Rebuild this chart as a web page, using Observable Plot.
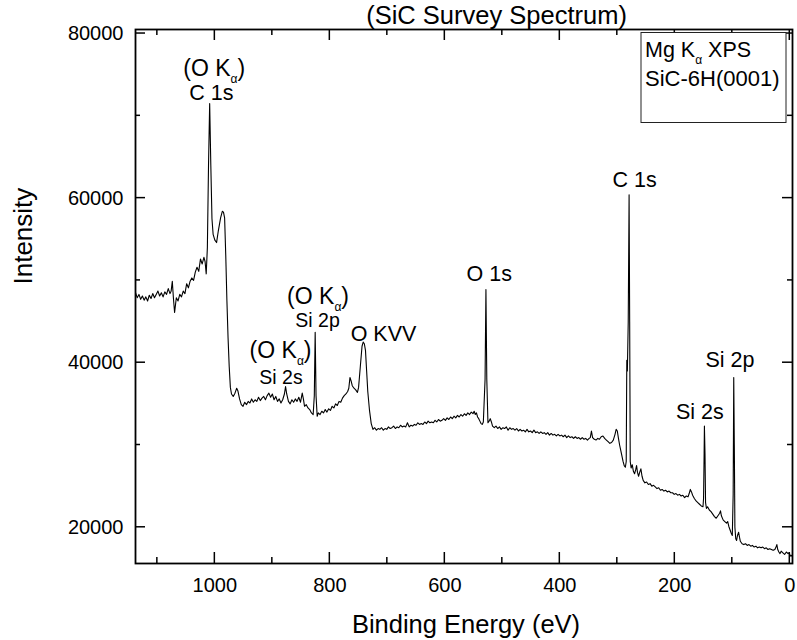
<!DOCTYPE html>
<html><head><meta charset="utf-8">
<script src="https://cdn.jsdelivr.net/npm/d3@7"></script>
<script src="https://cdn.jsdelivr.net/npm/@observablehq/plot@0.6"></script>
<style>
html,body{margin:0;padding:0;background:#fff;}
#chart{width:797px;height:640px;}
</style></head><body><div id="chart"></div>
<script>
// Binding energy (eV) and intensity (counts)
const energy = [
1138,1135,1132,1129,1126,1123,1120,1117,1114,1111,1108,1105,1102,1099,1096,1093,1090,1087,1084,1081,
1078,1076,1074,1072,1070,1067,1064,1061,1058,1055,1052,1049,1046,1043,1040,1037,1034,1031,1028,1025,
1022,1019,1017,1015,1013,1011,1009,1007,1005,1003,1000,997,994,990,987,985,983,981,979,977,
975,973,971,968,965,962,960,957,954,951,948,945,942,939,936,933,930,927,924,921,
918,915,912,909,906,903,900,897,894,891,888,885,882,879,877,875,872,869,866,863,
860,857,854,851,848,846,844,841,838,835,832,829,827,825.5,824,822,820,817,814,811,
808,805,802,799,796,793,790,787,784,781,778,775,772,769,767,765,763,761,758,755,
752,750,747,744,742,740,738,736,734,731,728,725,722,719,716,713,710,707,704,701,
698,695,692,689,686,683,680,677,674,671,668,665,662,659,656,653,650,647,644,641,
638,635,632,629,626,623,620,617,614,611,608,605,602,599,596,593,590,587,584,581,
578,575,572,569,566,563,560,557,554,551,549,547,545,543,541,539,537,535,533,530,
528.5,527,525,523,521,519,517,514,511,508,505,502,499,496,493,490,487,484,481,478,
475,472,469,466,463,460,457,454,451,448,445,442,439,436,433,430,427,424,421,418,
415,412,409,406,403,400,397,394,391,388,385,382,379,376,373,370,367,364,361,358,
355,352,349,347,345,343,340,337,334,331,328,325,322,319,316,313,310,307,304,302,
300,298,296,293,290,288,286,284.5,283.5,282.5,281,279.5,278.5,277.5,276,274,272,270,268,266.5,
265,263,261,259,257,255,252,249,246,243,240,237,234,231,228,225,222,219,216,213,
210,207,204,201,198,195,192,189,186,183,180,177,175,173,171,169,166,163,160,157,
154,151,150,149,148.5,147.5,146.5,145,143,140,137,134,131,128,125,122,120.5,119,116,113,
110,108,106,104,102,100,98.5,97.5,96.5,95.5,94,92.5,91,89,87.5,86,83,80,77,74,
71,68,65,62,59,56,53,50,47,44,41,38,35,32,29,26,24,22.5,21,19,
17,15,12,9,6,3,1,-1,-3,-4.5
];
const intensity = [
48500,47900,48300,47700,48100,47600,48000,47500,48200,47800,48400,47900,48300,48700,48100,48500,48000,48600,48300,49000,
48400,48700,49900,47800,46100,47900,47500,48300,48000,48700,48400,49600,49100,49900,50300,50000,51000,51600,51100,52600,
52000,52800,52300,50800,54000,64000,71500,64000,57500,55600,54900,54600,56000,57600,58400,58300,57600,53000,47500,43000,
39500,37000,36200,35900,36300,36900,36600,35600,34900,34700,35200,34900,35300,35100,35600,35200,35500,35300,35800,35400,
35700,35900,35500,36000,36300,35800,36200,35500,35900,35300,35600,35100,35500,36200,37100,36200,35300,35000,35500,35200,
35600,35300,35800,35200,36300,35600,34700,34900,34500,34300,33900,33700,36000,43700,36000,33500,33900,33700,34100,33900,
34300,34000,34400,34200,34700,34500,35000,34800,35300,35200,35700,36000,36200,36500,36900,38200,37800,37200,36900,36700,
36400,37000,39500,42000,42500,42300,41500,39000,36500,34200,32600,31900,32100,31800,32000,31900,32100,31800,32000,31900,
32200,32000,32100,32300,32000,32200,32100,32400,32200,32300,32200,32700,32200,32400,32300,32500,32400,32700,32500,32600,
32500,32800,32600,32900,32700,32800,32700,33000,32800,33100,32900,33000,33200,33000,33300,33100,33400,33200,33500,33300,
33600,33400,33700,33500,33800,33600,33900,33700,34000,33800,34100,33700,33900,33400,33200,32900,32600,32500,32800,38000,
48900,38000,32700,32900,33200,32800,32300,32100,32300,32000,32200,31900,32100,32000,32200,31800,32100,31900,32000,31800,
32000,31700,31900,31700,31800,31600,31900,31600,31700,31500,31800,31500,31600,31400,31600,31400,31500,31300,31500,31200,
31400,31200,31300,31100,31300,31100,31200,31000,31200,30900,31100,30900,31000,30800,31000,30800,30900,30700,30900,30700,
30800,30600,30800,30900,31700,30900,30700,30600,30800,30700,31000,31100,30800,30600,30400,30200,30300,30600,31300,31900,
31700,30800,30000,29000,28000,27500,27300,28000,40300,39000,45000,60400,45000,28000,27200,27600,26800,26500,27000,27500,
26700,26200,26700,27100,26200,25700,25400,25500,25200,25300,25000,25100,24900,24700,24800,24500,24600,24400,24500,24300,
24400,24200,24200,24000,24100,23900,24000,23800,23900,23600,23800,23700,24100,24600,24300,23900,23500,23200,23000,22800,
22600,22500,23500,29000,32300,29000,23000,22300,22500,22100,21900,21600,21300,21100,21400,21700,22000,21400,20900,20700,
20500,20700,20100,19700,19300,19000,24000,38200,30000,20000,18600,18400,19000,19400,18800,18300,18000,17900,18000,17800,
17900,17700,17800,17600,17700,17500,17600,17500,17600,17400,17500,17300,17400,17300,17200,17300,17600,17900,17300,17000,
16800,17100,16900,16700,17000,16800,16900,16500,16600,16400
];

const xMajorTicks = [0, 200, 400, 600, 800, 1000];
const xMinorTicks = [100, 300, 500, 700, 900, 1100];
const yMajorTicks = [20000, 40000, 60000, 80000];
const yMinorTicks = [30000, 50000, 70000];

const peakLabels = ["(O Kα)", "C 1s", "(O Kα)", "Si 2p", "(O Kα)", "Si 2s", "O KVV", "O 1s", "C 1s", "Si 2s", "Si 2p"];
const labelEnergy = [1001, 1006, 820.5, 821.4, 885.7, 884.9, 706.6, 522.6, 270, 156.5, 104];
const labelIntensity = [74806, 71886, 47154, 44308, 40585, 37422, 42690, 49904, 61339, 33165, 39527];

const titleText = "(SiC Survey Spectrum)";
const xLabel = "Binding Energy (eV)";
const yLabel = "Intensity";
const legendLines = ["Mg Kα XPS", "SiC-6H(0001)"];

(function () {
const spectrum = energy.map((e, i) => ({e, v: intensity[i]}));
const labels = peakLabels.map((t, i) => ({t, e: labelEnergy[i], v: labelIntensity[i], i}));
const smallSet = new Set([3, 5]);
const labelSize = d => d.t.startsWith("(") ? 23 : (smallSet.has(d.i) ? 19.5 : 21.5);

const FONT = "'Liberation Sans', Arial, Helvetica, sans-serif";
const W = 797, H = 640, ML = 135, MR = 5, MT = 29, MB = 77;

const chart = Plot.plot({
  width: W, height: H,
  marginLeft: ML, marginRight: MR, marginTop: MT, marginBottom: MB,
  x: {domain: [1138, -4.7]},
  y: {domain: [15600, 80490]},
  style: {fontFamily: FONT, background: "white", color: "black", overflow: "visible"},
  marks: [
    Plot.line(spectrum, {x: "e", y: "v", stroke: "black", strokeWidth: 1.1}),
    Plot.frame({stroke: "black", strokeWidth: 1.8}),
    Plot.axisX(xMajorTicks, {anchor: "bottom", tickSize: 0, tickPadding: 14, tickFormat: d => String(d), fontSize: 20, label: null}),
    Plot.axisY(yMajorTicks, {anchor: "left", tickSize: 0, tickPadding: 12, tickFormat: d => String(d), fontSize: 20, label: null}),
    Plot.text(labels, {x: "e", y: "v", text: "t", lineAnchor: "bottom", textAnchor: "middle", fontSize: labelSize, fill: "black"}),
    Plot.text([titleText], {frameAnchor: "top", lineAnchor: "bottom", dy: -6, dx: 32.5, fontSize: 25.5, fill: "black"}),
    Plot.text([xLabel], {frameAnchor: "bottom", lineAnchor: "bottom", dy: 69, dx: 2, fontSize: 25.5, fill: "black"}),
    Plot.text([yLabel], {frameAnchor: "left", rotate: -90, lineAnchor: "bottom", dx: -103.3, dy: -12, fontSize: 26, fill: "black"})
  ]
});

document.getElementById("chart").appendChild(chart);

const svg = d3.select(chart);
const sx = chart.scale("x"), sy = chart.scale("y");
const yTop = MT, yBottom = H - MB, xLeft = ML, xRight = W - MR;

// inward tick marks on all four sides, positioned through Plot's own scales
const tg = svg.append("g").attr("stroke", "black").attr("stroke-width", 1.5);
function xTicks(vals, len) {
  for (const v of vals) {
    const px = sx.apply(v);
    tg.append("line").attr("x1", px).attr("x2", px).attr("y1", yBottom).attr("y2", yBottom - len);
    tg.append("line").attr("x1", px).attr("x2", px).attr("y1", yTop).attr("y2", yTop + len);
  }
}
function yTicks(vals, len) {
  for (const v of vals) {
    const py = sy.apply(v);
    tg.append("line").attr("y1", py).attr("y2", py).attr("x1", xLeft).attr("x2", xLeft + len);
    tg.append("line").attr("y1", py).attr("y2", py).attr("x1", xRight).attr("x2", xRight - len);
  }
}
xTicks(xMajorTicks, 11); xTicks(xMinorTicks, 6);
yTicks(yMajorTicks, 10); yTicks(yMinorTicks, 5);

// legend box (top-right)
const lg = svg.append("g").attr("font-family", FONT).attr("fill", "black").attr("text-anchor", "start");
lg.append("rect").attr("x", 641).attr("y", 32.5).attr("width", 145).attr("height", 90)
  .attr("fill", "white").attr("stroke", "#222").attr("stroke-width", 1);
lg.append("text").attr("x", 645).attr("y", 56.7).attr("font-size", 21.5).attr("text-anchor", "start").text(legendLines[0]);
lg.append("text").attr("x", 645).attr("y", 85.5).attr("font-size", 22).attr("text-anchor", "start").text(legendLines[1]);

// turn "α" into a small lowered subscript
function split(el) {
  const s = el.text();
  if (!s.includes("α")) return;
  const [a, b] = s.split("α");
  el.text(null);
  el.append("tspan").text(a);
  el.append("tspan").attr("font-size", 12).attr("dy", 7).text("α");
  el.append("tspan").attr("dy", -7).text(b);
}
svg.selectAll("text").each(function () {
  if (this.querySelector("tspan")) {
    d3.select(this).selectAll("tspan").each(function () { split(d3.select(this)); });
  } else split(d3.select(this));
});
})();
</script></body></html>
